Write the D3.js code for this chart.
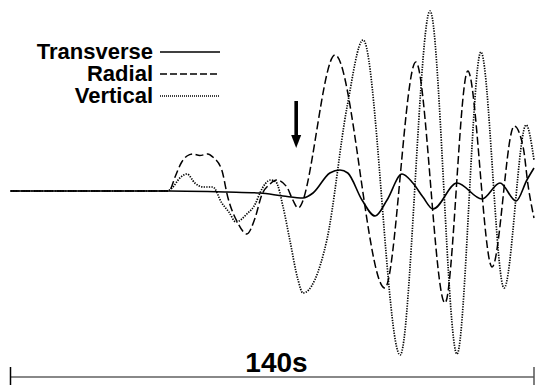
<!DOCTYPE html>
<html>
<head>
<meta charset="utf-8">
<script src="https://cdn.jsdelivr.net/npm/d3@7/dist/d3.min.js"></script>
<style>
  body { margin: 0; background: #fff; }
  text { font-family: "Liberation Sans", Arial, sans-serif; font-weight: bold; }
</style>
</head>
<body>
<div id="chart"></div>
<script>
// time in seconds, amplitude in relative units (0 = rest level)
var transverse = [
  [0, 0], [42.6, 0], [57.9, -1], [66.7, -2], [72.9, -5], [78.2, -7], [80.9, -2],
  [85.4, 18], [88.1, 21], [90.2, 18], [94.0, -9], [97.5, -25], [100.7, -9],
  [104.7, 17], [107.6, 8], [110.3, -6], [113.0, -18], [119.4, 8], [126.1, -8],
  [130.9, 8], [135.2, -10], [138.1, 11], [140, 23]
];
var radial = [
  [0, 0], [41.8, 0], [42.6, 1], [44.0, 14], [45.8, 29], [47.2, 35], [48.8, 37],
  [50.6, 35.5], [52.8, 37], [54.1, 34], [56.5, 21], [58.1, -6], [60.8, -32],
  [63.2, -43], [65.4, -27], [67.2, -4], [69.4, 7], [71.2, 11], [73.9, 4],
  [75.5, -9], [76.9, -17], [86.8, 136], [100.1, -97], [108.4, 129],
  [116.2, -112], [122.3, 120], [128.8, -76], [134.7, 65], [137.1, 44],
  [138.4, 6], [140, -27]
];
var vertical = [
  [0, 0], [41.8, 0], [43.2, 3], [45.3, 13], [47.2, 17], [49.3, 8], [51.5, 4],
  [54.1, 4], [56.5, -12], [58.4, -21], [60.3, -31], [63.2, -23], [65.6, -12],
  [66.7, -2], [69.6, 11], [71.0, 9], [72.9, -16], [74.7, -49], [76.9, -89],
  [78.2, -102], [84.6, -49], [90.0, 84], [94.3, 151], [104.2, -164],
  [112.2, 180], [119.4, -163], [125.8, 139], [132.0, -97], [137.9, 66], [140, 31]
];

var seriesNames = ["Transverse", "Radial", "Vertical"];
var scaleLabel = "140s";
var scaleTicks = [0, 140];
var arrowTime = 76.4;

var width = 535, height = 385;

var x = d3.scaleLinear().domain([0, 140]).range([10.5, 534]);
var y = d3.scaleLinear().domain([-194, 191]).range([385, 0]);

var svg = d3.select("#chart").append("svg")
    .attr("width", width)
    .attr("height", height);

var styles = [
  { dash: null, w: 1.6 },
  { dash: "8,3.5", w: 1.5 },
  { dash: "1.3,1.3", w: 1.7 }
];

var line = d3.line()
    .x(d => x(d[0]))
    .y(d => y(d[1]))
    .curve(d3.curveMonotoneX);

var g = svg.append("g");
[radial, vertical, transverse].forEach(function (s, i) {
  var idx = [1, 2, 0][i];
  g.append("path")
      .datum(s)
      .attr("d", line)
      .attr("fill", "none")
      .attr("stroke", "#000")
      .attr("stroke-width", styles[idx].w)
      .attr("stroke-dasharray", styles[idx].dash);
});

// legend
var legend = svg.append("g").attr("transform", "translate(153,59)");
var item = legend.selectAll("g")
    .data(seriesNames)
    .enter().append("g")
    .attr("transform", (d, i) => "translate(0," + (i * 22) + ")");
item.append("text")
    .attr("text-anchor", "end")
    .attr("font-size", 22)
    .text(d => d);
item.append("line")
    .attr("x1", 7).attr("x2", 67)
    .attr("y1", -7).attr("y2", -7)
    .attr("stroke", "#000")
    .attr("stroke-width", (d, i) => i == 0 ? 1.5 : 1.4)
    .attr("stroke-dasharray", (d, i) => i == 0 ? null : (i == 1 ? "7,3" : "1,1"));

// arrow
var ax = x(arrowTime);
svg.append("rect")
    .attr("x", ax - 1.8).attr("y", 101)
    .attr("width", 3.6).attr("height", 37)
    .attr("fill", "#000");
svg.append("path")
    .attr("d", "M" + (ax - 5) + ",135L" + (ax + 5) + ",135L" + ax + ",148Z")
    .attr("fill", "#000");

// scale bar
var bar = svg.append("g");
bar.append("line")
    .attr("x1", x(scaleTicks[0])).attr("x2", x(scaleTicks[1]))
    .attr("y1", 377).attr("y2", 377)
    .attr("stroke", "#888").attr("stroke-width", 2);
bar.selectAll(".tick")
    .data(scaleTicks)
    .enter().append("line")
    .attr("x1", d => x(d)).attr("x2", d => x(d))
    .attr("y1", 367).attr("y2", 385)
    .attr("stroke", (d, i) => i == 0 ? "#000" : "#555")
    .attr("stroke-width", 1.5);
bar.append("text")
    .attr("x", 276.5).attr("y", 371.5)
    .attr("text-anchor", "middle")
    .attr("font-size", 28)
    .text(scaleLabel);
</script>
</body>
</html>
